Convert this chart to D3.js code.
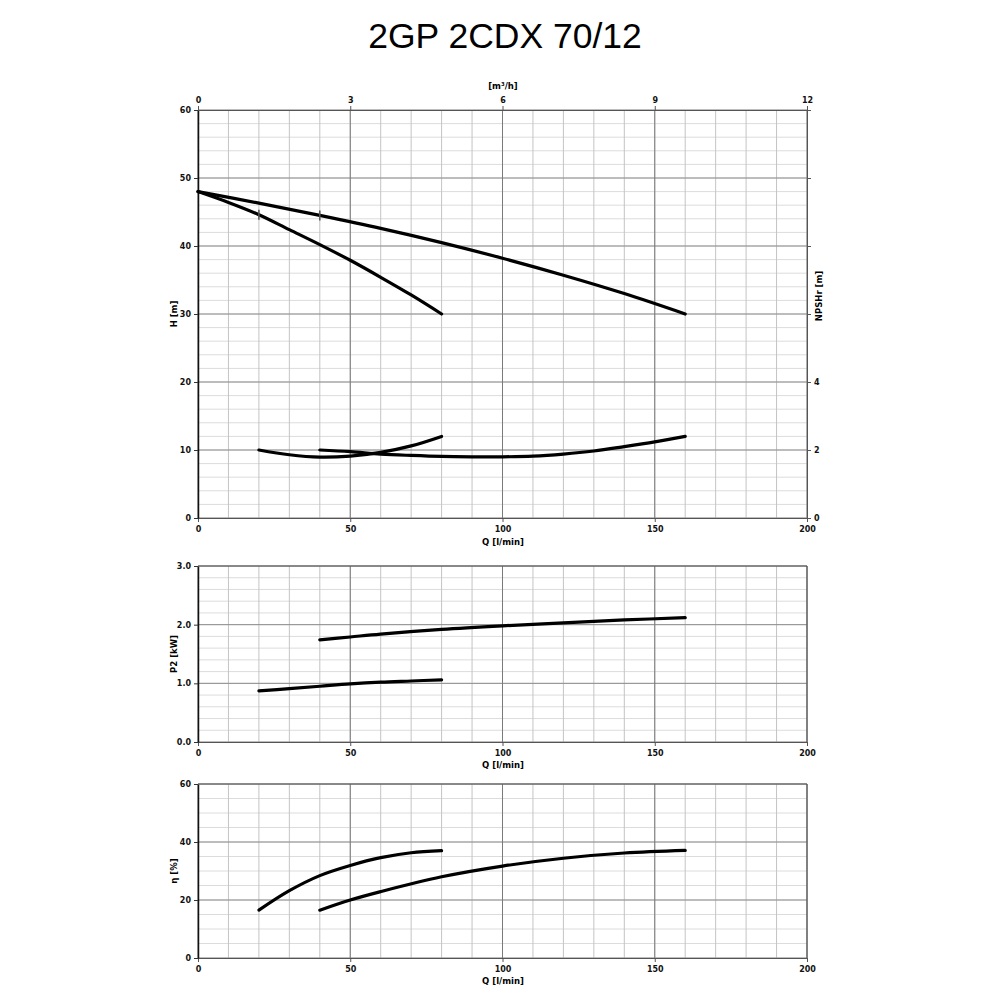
<!DOCTYPE html>
<html><head><meta charset="utf-8">
<script src="https://cdn.jsdelivr.net/npm/d3@7"></script>
<style>
body{margin:0;background:#fff;}
svg text{font-family:Verdana,"DejaVu Sans",sans-serif;}
</style></head>
<body><svg id="c" width="1000" height="1000"></svg>
<script>
// ---- data ----
const title = "2GP 2CDX 70/12";
// Head curves H [m] vs Q [l/min]
const hSmallQ = [0, 10, 20, 30, 40, 50, 60, 70, 80];
const hSmallH = [48, 46.4, 44.6, 42.4, 40.2, 37.9, 35.4, 32.8, 30];
const hLargeQ = [0, 20, 40, 60, 80, 100, 120, 140, 160];
const hLargeH = [48, 46.3, 44.5, 42.6, 40.5, 38.2, 35.7, 33.0, 30];
const dutyMarks = [[20, 44.6], [40, 44.5]];
// NPSHr [m] (right axis)
const nSmallQ = [20, 30, 40, 50, 60, 70, 80];
const nSmallN = [2.0, 1.86, 1.79, 1.82, 1.93, 2.12, 2.4];
const nLargeQ = [40, 50, 60, 70, 80, 90, 100, 110, 120, 130, 140, 150, 160];
const nLargeN = [2.0, 1.95, 1.88, 1.84, 1.81, 1.8, 1.8, 1.82, 1.88, 1.97, 2.1, 2.24, 2.4];
// P2 [kW]
const pSmallQ = [20, 30, 40, 50, 60, 70, 80];
const pSmallP = [0.87, 0.91, 0.95, 0.99, 1.02, 1.04, 1.06];
const pLargeQ = [40, 50, 60, 80, 100, 120, 140, 160];
const pLargeP = [1.74, 1.79, 1.84, 1.92, 1.98, 2.03, 2.08, 2.12];
// efficiency [%]
const eSmallQ = [20, 30, 40, 50, 60, 70, 80];
const eSmallE = [16.5, 23.2, 28.4, 31.9, 34.6, 36.3, 37.0];
const eLargeQ = [40, 50, 60, 80, 100, 120, 140, 160];
const eLargeE = [16.5, 20.0, 22.9, 28.0, 31.7, 34.4, 36.2, 37.1];
// tick labels
const qTicks = [0, 50, 100, 150, 200];
const m3Ticks = [0, 3, 6, 9, 12];
const hTicks = [0, 10, 20, 30, 40, 50, 60];
const npshTicks = [0, 2, 4, 6, 8, 10, 12];
const npshLabelled = [0, 2, 4];
const pTicks = [0, 1, 2, 3];
const eTicks = [0, 20, 40, 60];

// ---- drawing ----
const svg = d3.select("#c");
svg.append("text").attr("x", 505).attr("y", 48).attr("text-anchor", "middle")
  .style("font-family", "'Liberation Sans',Arial,sans-serif").style("font-size", "35.5px").text(title);

const X0 = 198, X1 = 807;
const x = d3.scaleLinear().domain([0, 200]).range([X0, X1]);
const xm3 = d3.scaleLinear().domain([0, 12]).range([X0, X1]);

const minorV = d3.range(0, 201, 10);

function panel(top, bottom, yDomain, minorStep, majorTicks, fmt, yLabel, xLabelY) {
  const y = d3.scaleLinear().domain(yDomain).range([bottom, top]);
  const g = svg.append("g");
  const minorH = d3.range(yDomain[0], yDomain[1] + 1e-9, minorStep);
  g.selectAll(".mh").data(minorH).join("line")
    .attr("x1", X0).attr("x2", X1).attr("y1", d => y(d)).attr("y2", d => y(d))
    .attr("stroke", "#dcdcdc").attr("stroke-width", 1);
  g.selectAll(".mv").data(minorV).join("line")
    .attr("x1", d => x(d)).attr("x2", d => x(d)).attr("y1", top).attr("y2", bottom)
    .attr("stroke", "#c4c4c4").attr("stroke-width", 1);
  g.selectAll(".Mh").data(majorTicks).join("line")
    .attr("x1", X0).attr("x2", X1).attr("y1", d => y(d)).attr("y2", d => y(d))
    .attr("stroke", "#8c8c8c").attr("stroke-width", 1);
  g.selectAll(".Mv").data(qTicks).join("line")
    .attr("x1", d => x(d)).attr("x2", d => x(d)).attr("y1", top).attr("y2", bottom)
    .attr("stroke", "#7a7a7a").attr("stroke-width", 1);
  const ax = d3.axisBottom(x).tickValues(qTicks).tickSize(4).tickSizeOuter(0).tickFormat(d3.format("d"));
  const ga = g.append("g").attr("transform", `translate(0,${bottom})`).call(ax);
  ga.select(".domain").attr("stroke", "#555");
  ga.selectAll(".tick line").attr("stroke", "#555");
  ga.selectAll("text").attr("dy", "0.9em");
  const ay = d3.axisLeft(y).tickValues(majorTicks).tickSize(4).tickSizeOuter(0).tickFormat(fmt);
  const gy = g.append("g").attr("transform", `translate(${X0},0)`).call(ay);
  gy.select(".domain").attr("stroke", "#111").attr("stroke-width", 1.5);
  gy.selectAll(".tick line").attr("stroke", "#333");
  g.selectAll(".tick text").style("font-size", "8px").style("font-weight", "bold").attr("fill", "#111");
  g.append("text").attr("x", 503).attr("y", xLabelY).attr("text-anchor", "middle")
    .style("font-size", "8.5px").style("font-weight", "bold").text("Q [l/min]");
  g.append("text").attr("transform", `translate(177,${(top + bottom) / 2}) rotate(-90)`)
    .attr("text-anchor", "middle").style("font-size", "8.5px").style("font-weight", "bold").text(yLabel);
  return {y, g};
}

function curve(g, y, qs, vs) {
  const pts = qs.map((q, i) => [x(q), y(vs[i])]);
  g.append("path").attr("d", d3.line().curve(d3.curveCatmullRom.alpha(0.5))(pts))
    .attr("fill", "none").attr("stroke", "#000").attr("stroke-width", 3.2).attr("stroke-linecap", "round");
}

// Panel 1
const p1 = panel(110, 518, [0, 60], 2, hTicks, d3.format("d"), "H [m]", 545);
const topAx = d3.axisTop(xm3).tickValues(m3Ticks).tickSize(4).tickSizeOuter(0).tickFormat(d3.format("d"));
const gt = p1.g.append("g").attr("transform", "translate(0,110)").call(topAx);
gt.select(".domain").attr("stroke", "#555");
gt.selectAll(".tick line").attr("stroke", "#555");
gt.selectAll("text").style("font-size", "8px").style("font-weight", "bold").attr("fill", "#111");
p1.g.append("text").attr("x", 503).attr("y", 89).attr("text-anchor", "middle")
  .style("font-size", "8.5px").style("font-weight", "bold").text("[m³/h]");
const yN = d3.scaleLinear().domain([0, 12]).range([518, 110]);
const rAx = d3.axisRight(yN).tickValues(npshTicks).tickSize(4).tickSizeOuter(0)
  .tickFormat(d => npshLabelled.includes(d) ? d : "");
const gr = p1.g.append("g").attr("transform", `translate(${X1},0)`).call(rAx);
gr.select(".domain").attr("stroke", "#555");
gr.selectAll(".tick line").attr("stroke", "#555");
gr.selectAll("text").style("font-size", "8px").style("font-weight", "bold").attr("fill", "#111");
p1.g.append("text").attr("transform", "translate(822,296) rotate(-90)").attr("text-anchor", "middle")
  .style("font-size", "8.5px").style("font-weight", "bold").text("NPSHr [m]");

curve(p1.g, p1.y, hSmallQ, hSmallH);
curve(p1.g, p1.y, hLargeQ, hLargeH);
curve(p1.g, yN, nSmallQ, nSmallN);
curve(p1.g, yN, nLargeQ, nLargeN);
p1.g.selectAll(".duty").data(dutyMarks).join("line")
  .attr("x1", d => x(d[0])).attr("x2", d => x(d[0]))
  .attr("y1", d => p1.y(d[1]) - 5).attr("y2", d => p1.y(d[1]) + 5)
  .attr("stroke", "#555").attr("stroke-width", 1.5);

// Panel 2
const p2 = panel(566, 742, [0, 3], 0.2, pTicks, d3.format(".1f"), "P2 [kW]", 768);
p2.g.append("line").attr("x1", X0).attr("x2", X1).attr("y1", 566).attr("y2", 566).attr("stroke", "#555");
p2.g.append("line").attr("x1", X1).attr("x2", X1).attr("y1", 566).attr("y2", 742).attr("stroke", "#555");
curve(p2.g, p2.y, pSmallQ, pSmallP);
curve(p2.g, p2.y, pLargeQ, pLargeP);

// Panel 3
const p3 = panel(784, 958, [0, 60], 5, eTicks, d3.format("d"), "η [%]", 984);
p3.g.append("line").attr("x1", X0).attr("x2", X1).attr("y1", 784).attr("y2", 784).attr("stroke", "#555");
p3.g.append("line").attr("x1", X1).attr("x2", X1).attr("y1", 784).attr("y2", 958).attr("stroke", "#555");
curve(p3.g, p3.y, eSmallQ, eSmallE);
curve(p3.g, p3.y, eLargeQ, eLargeE);
</script></body></html>
